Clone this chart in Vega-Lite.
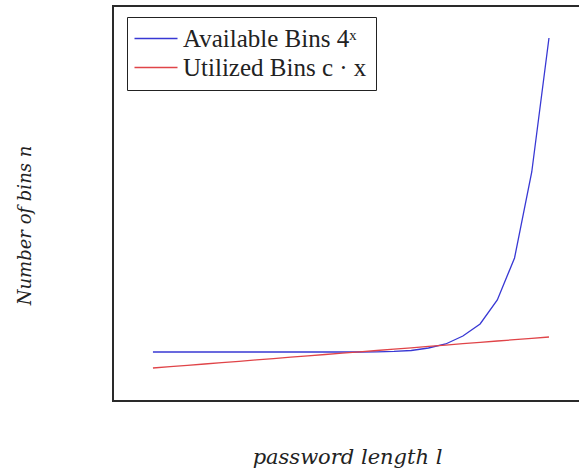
{
  "$schema": "https://vega.github.io/schema/vega-lite/v6.json",
  "autosize": "none",
  "width": 468,
  "height": 395,
  "padding": {"left": 113, "top": 6, "right": 0, "bottom": 67},
  "background": "white",
  "config": {
    "view": {"stroke": "#2a2a2a", "strokeWidth": 2},
    "axis": {"grid": false, "ticks": false, "labels": false, "domain": false}
  },
  "data": {
    "values": [
      {"l": 1, "n": 49, "series": "Available Bins 4ˣ"},
      {"l": 2, "n": 49, "series": "Available Bins 4ˣ"},
      {"l": 3, "n": 49, "series": "Available Bins 4ˣ"},
      {"l": 4, "n": 49, "series": "Available Bins 4ˣ"},
      {"l": 5, "n": 49, "series": "Available Bins 4ˣ"},
      {"l": 6, "n": 49, "series": "Available Bins 4ˣ"},
      {"l": 7, "n": 49, "series": "Available Bins 4ˣ"},
      {"l": 8, "n": 49, "series": "Available Bins 4ˣ"},
      {"l": 9, "n": 49, "series": "Available Bins 4ˣ"},
      {"l": 10, "n": 49, "series": "Available Bins 4ˣ"},
      {"l": 11, "n": 49, "series": "Available Bins 4ˣ"},
      {"l": 12, "n": 49, "series": "Available Bins 4ˣ"},
      {"l": 13, "n": 49, "series": "Available Bins 4ˣ"},
      {"l": 14, "n": 49.2, "series": "Available Bins 4ˣ"},
      {"l": 15, "n": 49.6, "series": "Available Bins 4ˣ"},
      {"l": 16, "n": 50.5, "series": "Available Bins 4ˣ"},
      {"l": 17, "n": 53, "series": "Available Bins 4ˣ"},
      {"l": 18, "n": 57, "series": "Available Bins 4ˣ"},
      {"l": 19, "n": 65, "series": "Available Bins 4ˣ"},
      {"l": 20, "n": 77, "series": "Available Bins 4ˣ"},
      {"l": 21, "n": 101, "series": "Available Bins 4ˣ"},
      {"l": 22, "n": 143, "series": "Available Bins 4ˣ"},
      {"l": 23, "n": 229, "series": "Available Bins 4ˣ"},
      {"l": 24, "n": 363, "series": "Available Bins 4ˣ"},
      {"l": 1, "n": 33.0, "series": "Utilized Bins c · x"},
      {"l": 2, "n": 34.3, "series": "Utilized Bins c · x"},
      {"l": 3, "n": 35.7, "series": "Utilized Bins c · x"},
      {"l": 4, "n": 37.0, "series": "Utilized Bins c · x"},
      {"l": 5, "n": 38.4, "series": "Utilized Bins c · x"},
      {"l": 6, "n": 39.7, "series": "Utilized Bins c · x"},
      {"l": 7, "n": 41.1, "series": "Utilized Bins c · x"},
      {"l": 8, "n": 42.4, "series": "Utilized Bins c · x"},
      {"l": 9, "n": 43.8, "series": "Utilized Bins c · x"},
      {"l": 10, "n": 45.1, "series": "Utilized Bins c · x"},
      {"l": 11, "n": 46.5, "series": "Utilized Bins c · x"},
      {"l": 12, "n": 47.8, "series": "Utilized Bins c · x"},
      {"l": 13, "n": 49.2, "series": "Utilized Bins c · x"},
      {"l": 14, "n": 50.5, "series": "Utilized Bins c · x"},
      {"l": 15, "n": 51.9, "series": "Utilized Bins c · x"},
      {"l": 16, "n": 53.2, "series": "Utilized Bins c · x"},
      {"l": 17, "n": 54.6, "series": "Utilized Bins c · x"},
      {"l": 18, "n": 55.9, "series": "Utilized Bins c · x"},
      {"l": 19, "n": 57.3, "series": "Utilized Bins c · x"},
      {"l": 20, "n": 58.6, "series": "Utilized Bins c · x"},
      {"l": 21, "n": 60.0, "series": "Utilized Bins c · x"},
      {"l": 22, "n": 61.3, "series": "Utilized Bins c · x"},
      {"l": 23, "n": 62.7, "series": "Utilized Bins c · x"},
      {"l": 24, "n": 64.0, "series": "Utilized Bins c · x"}
    ]
  },
  "mark": {"type": "line", "strokeWidth": 1.3, "interpolate": "linear"},
  "encoding": {
    "x": {
      "field": "l", "type": "quantitative",
      "scale": {"domain": [-1.32, 25.86], "nice": false, "zero": false},
      "axis": {
        "title": "password length l",
        "titleFont": "DejaVu Serif", "titleFontStyle": "italic", "titleFontWeight": "normal",
        "titleFontSize": 21, "titleColor": "#222",
        "titleY": 56, "titleBaseline": "middle"
      }
    },
    "y": {
      "field": "n", "type": "quantitative",
      "scale": {"domain": [0, 395], "nice": false, "zero": true},
      "axis": {
        "title": "Number of bins n",
        "titleFont": "DejaVu Serif", "titleFontStyle": "italic", "titleFontWeight": "normal",
        "titleFontSize": 18, "titleColor": "#222",
        "titleX": -88, "titleY": 219, "titleBaseline": "middle", "titleAngle": -90
      }
    },
    "color": {
      "field": "series", "type": "nominal",
      "scale": {"domain": ["Available Bins 4ˣ", "Utilized Bins c · x"], "range": ["#3838d4", "#e04448"]},
      "legend": {
        "title": null,
        "orient": "none", "legendX": 14, "legendY": 11,
        "strokeColor": "#222", "fillColor": "white",
        "padding": 9,
        "symbolType": "M-2.8,0H5.8", "symbolSize": 100, "symbolStrokeWidth": 1.3,
        "labelFont": "Liberation Serif", "labelFontSize": 25, "labelColor": "#222",
        "labelLimit": 0, "labelOffset": 22, "rowPadding": 3
      }
    }
  }
}
